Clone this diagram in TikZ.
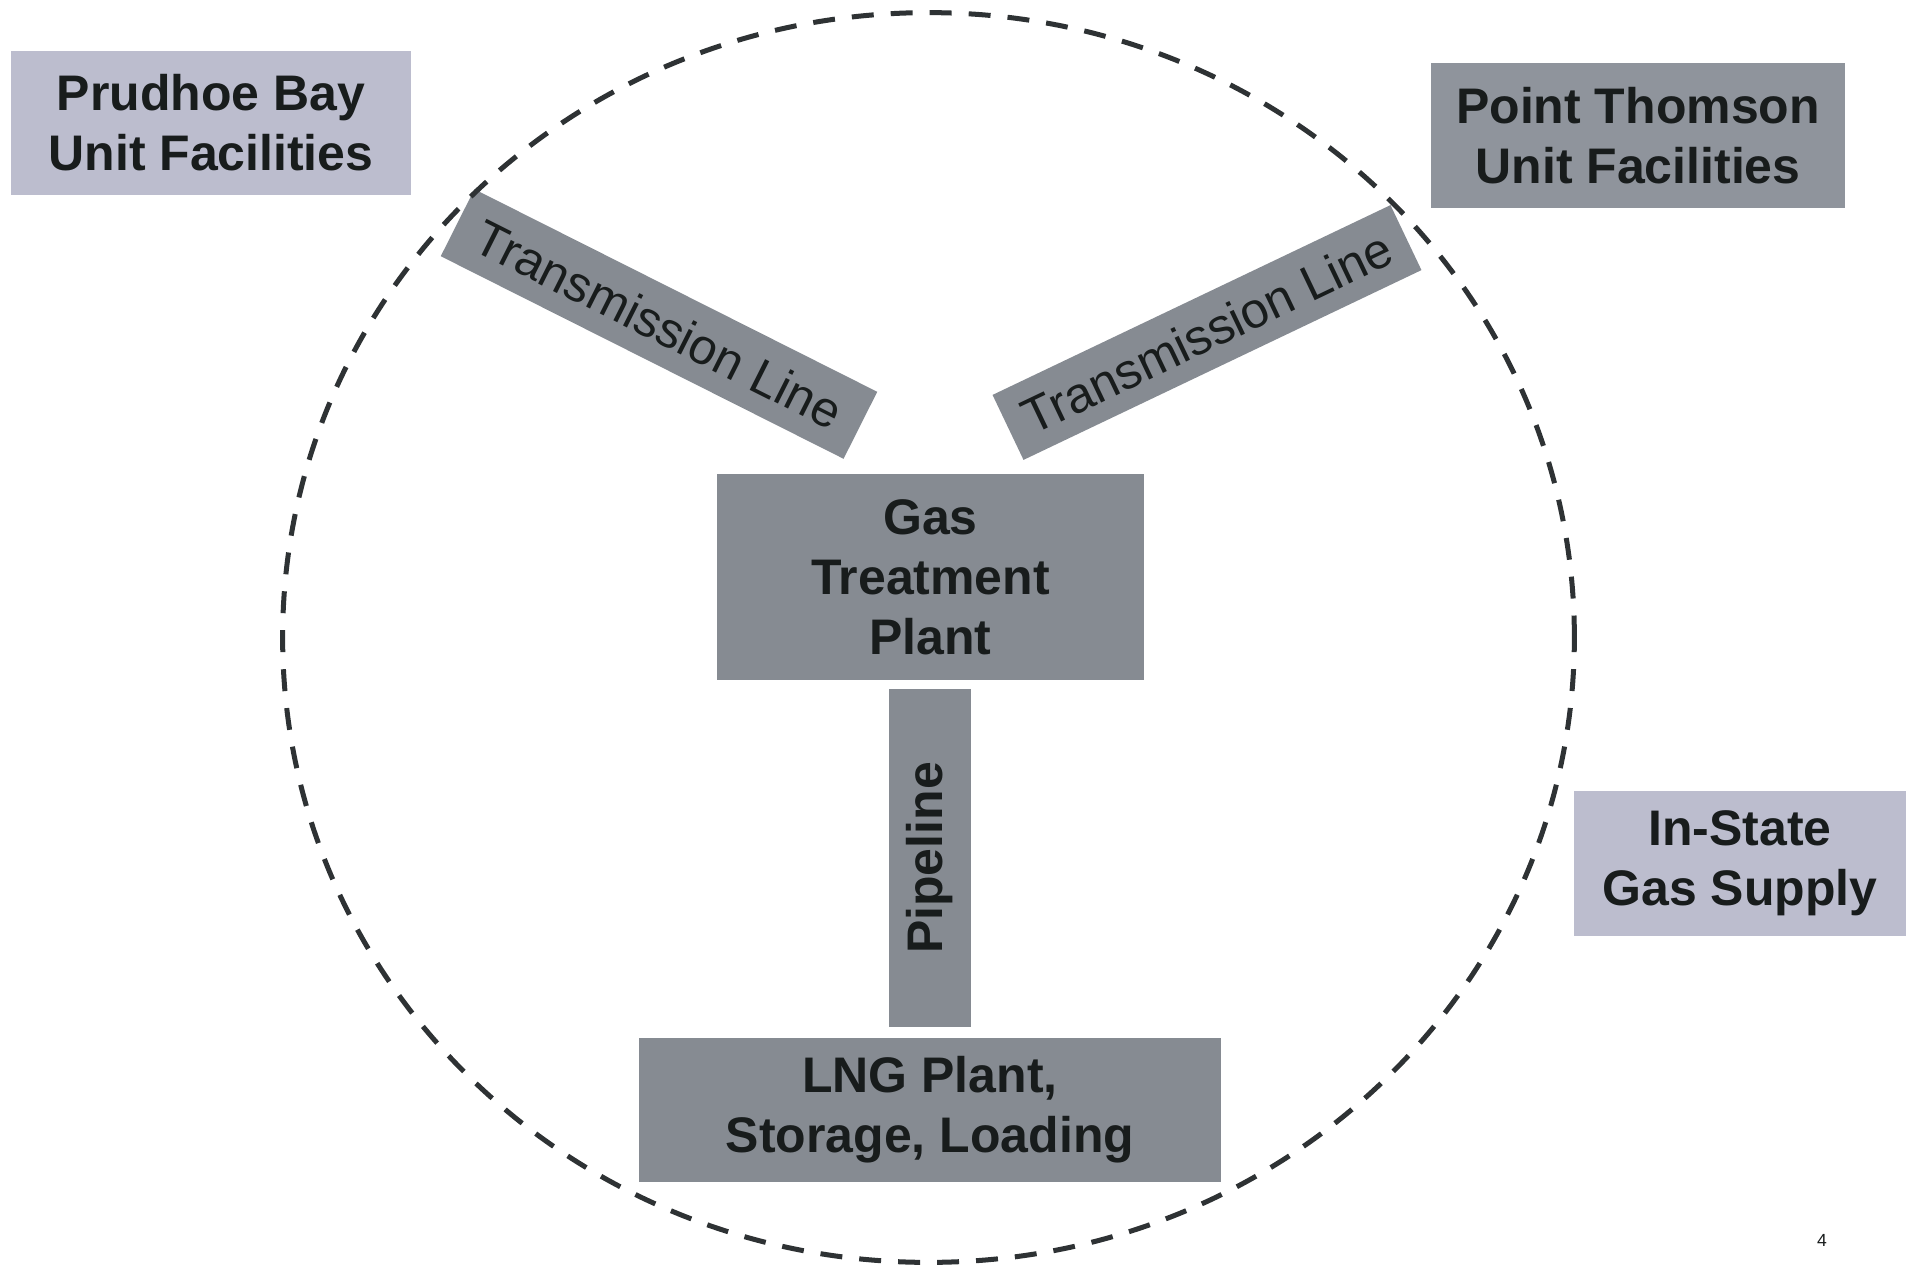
\documentclass[tikz,border=0pt]{standalone}
\usepackage{fontspec}
\setmainfont{Liberation Sans}

\definecolor{paleblock}{RGB}{188,189,206}
\definecolor{midblock}{RGB}{143,148,156}
\definecolor{darkblock}{RGB}{134,139,146}
\definecolor{ink}{RGB}{24,28,28}
\definecolor{ringline}{RGB}{46,50,52}

\tikzstyle{block}=[inner sep=0pt, text=ink, align=center, font=\fontsize{28.45}{34.1}\selectfont\bfseries]
\tikzstyle{site}=[block, fill=paleblock]
\tikzstyle{plant}=[block, fill=darkblock]
\tikzstyle{link}=[block, fill=darkblock, font=\fontsize{28.45}{34.1}\selectfont]
\tikzstyle{ring}=[ringline, line width=2.85pt, dash pattern=on 12.5pt off 9.7pt]

\begin{document}
\begin{tikzpicture}[x=0.02cm, y=-0.02cm]
      \useasboundingbox (0,0) rectangle (1907,1265);
      \coordinate (hub) at (928.5,637.5);

      \node[site] (prudhoe) at (211,123) [minimum width=8cm, minimum height=2.88cm] {Prudhoe Bay\\Unit Facilities};
      \node[site, fill=midblock] (thomson) at (1638,135.5) [minimum width=8.28cm, minimum height=2.9cm] {Point Thomson\\Unit Facilities};
      \node[site] (instate) at (1740,863.5) [minimum width=6.64cm, minimum height=2.9cm] {In-State\\Gas Supply};

      \node[plant] (gtp) at (930.5,577) [minimum width=8.54cm, minimum height=4.12cm] {Gas\\Treatment\\Plant};
      \node[plant] (lng) at (930,1110) [minimum width=11.64cm, minimum height=2.88cm] {LNG Plant,\\Storage, Loading};

      \node[link, rotate=-26.7] (lineleft) at (659,324) [minimum width=9.02cm, minimum height=1.5cm] {Transmission Line};
      \node[link, rotate=25.5] (lineright) at (1207,332.5) [minimum width=8.82cm, minimum height=1.44cm] {Transmission Line};
      \node[plant, rotate=90] (pipe) at (930,858) [minimum width=6.76cm, minimum height=1.64cm] {Pipeline};

      \draw[ring] (hub) ellipse [x radius=12.92cm, y radius=12.5cm];

      \node[text=ink, font=\fontsize{10}{12}\selectfont] (pgno) at (1822,1240) {4};
    \end{tikzpicture}
\end{document}
